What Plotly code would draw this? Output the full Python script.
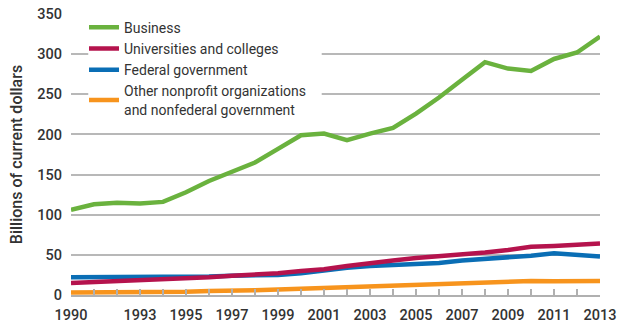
import plotly.graph_objects as go

years = list(range(1990, 2014))
business = [106, 113, 115, 114, 116, 128, 142, 154, 165, 182, 199, 201, 193, 201, 208,
            226, 246, 268, 290, 282, 279, 294, 302, 322]
universities = [15, 16, 18, 19, 20, 21, 22, 24, 25, 27, 30, 32, 36, 40, 43,
                46, 48, 50, 53, 56, 60, 61, 62, 64]
federal = [22, 22, 22, 23, 23, 23, 23, 24, 24, 25, 27, 31, 34, 36, 37,
           38, 40, 43, 45, 46, 49, 52, 50, 48]
other = [3, 3, 3, 4, 4, 4, 5, 5, 6, 7, 8, 9, 10, 11, 12,
         12.5, 13, 14, 15, 16.5, 17.5, 17, 17, 17.5]

series_names = ["Business", "Universities and colleges", "Federal government",
                "Other nonprofit organizations<br>and nonfederal government"]
series_values = [business, universities, federal, other]
colors = ["#6ab23e", "#b5134d", "#0a6eb5", "#f7941d"]

tick_labels = {1990: "1990", 1993: "1993", 1995: "1995", 1997: "1997", 1999: "1999",
               2001: "2001", 2003: "2003", 2005: "2005", 2007: "2007", 2009: "2009",
               2011: "2011", 2013: "2013"}

FONT = "Roboto, Liberation Sans, sans-serif"
TXT = "#333333"

fig = go.Figure()
# draw in reverse so Business is on top
for i, (name, vals, col) in reversed(list(enumerate(zip(series_names, series_values, colors)))):
    fig.add_trace(go.Scatter(x=years, y=vals, mode="lines", name=name,
                             legendgroup=f"g{i}", legendrank=i + 1,
                             line=dict(color=col, width=4.5)))

# white panel behind the legend (hides the gridlines there, like the original)
fig.add_shape(type="rect", xref="x", yref="y", x0=1990.75, x1=2000.9, y0=216, y1=318,
              fillcolor="white", line=dict(width=0), layer="between")

fig.update_layout(
    width=617, height=324,
    margin=dict(l=71, r=17, t=14, b=29),
    plot_bgcolor="white", paper_bgcolor="white",
    font=dict(family=FONT, color=TXT, size=14),
    showlegend=True,
    legend=dict(traceorder="grouped", x=0.0246, y=1.008, xanchor="left", yanchor="top",
                bgcolor="rgba(0,0,0,0)", font=dict(size=14, color=TXT, family=FONT),
                itemwidth=30, tracegroupgap=0),
    xaxis=dict(range=[1990, 2013], tickmode="array", tickvals=years,
               ticktext=[tick_labels.get(y, "") for y in years],
               showgrid=False, showline=True, linecolor="#b0b0b0", linewidth=1.5,
               ticks="inside", ticklen=6, tickcolor="#b0b0b0", tickwidth=1.5,
               ticklabelstandoff=6, automargin=False,
               tickfont=dict(size=14.5, family=FONT, color=TXT, weight=500), zeroline=False),
    yaxis=dict(range=[0, 350], tickvals=[0, 50, 100, 150, 200, 250, 300, 350],
               showgrid=True, gridcolor="#b8b8b8", gridwidth=1.5, zeroline=False,
               showline=False, ticks="", ticklabelstandoff=8, automargin=False,
               tickfont=dict(size=14.5, family=FONT, color=TXT, weight=500),
               title=dict(text="Billions of current dollars", standoff=10,
                          font=dict(size=16, family=FONT, color=TXT, weight=500))),
)

fig.write_html("out.html")
